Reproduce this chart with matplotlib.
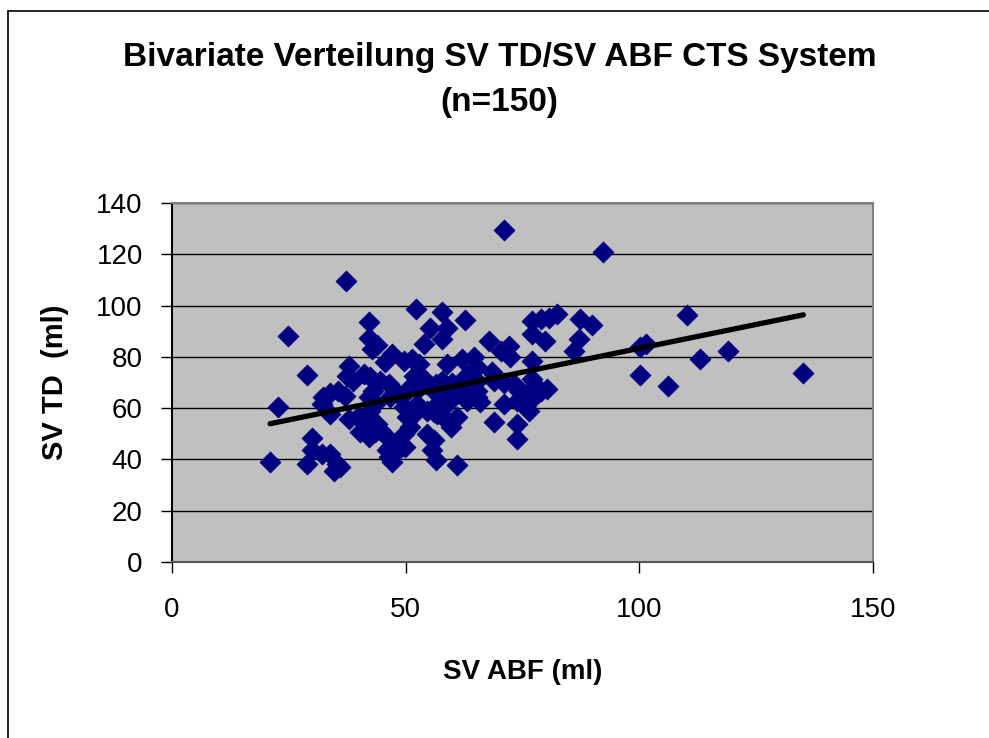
import matplotlib
matplotlib.use("Agg")
import matplotlib.pyplot as plt
from matplotlib.patches import Rectangle
import numpy as np

plt.rcParams['font.family'] = ['Liberation Sans', 'DejaVu Sans']

# SV ABF (ml) / SV TD (ml)
sv_abf = [21.0, 22.7, 24.9, 28.9, 29.9, 29.9, 28.9, 32.1, 33.9, 35.3,
          36.0, 34.6, 32.4, 33.9, 35.6, 37.1, 32.1, 33.9, 37.2, 37.8,
          37.4, 41.0, 38.8, 42.4, 42.1, 42.1, 42.8, 43.9, 37.8, 39.9,
          41.4, 42.4, 40.3, 42.1, 43.5, 42.1, 43.5, 43.1, 44.6, 46.4,
          47.8, 48.9, 46.7, 42.4, 43.9, 44.6, 46.0, 46.7, 47.4, 48.9,
          49.6, 51.0, 49.9, 46.4, 47.1, 46.0, 47.1, 45.6, 49.6, 51.4,
          52.8, 52.2, 57.8, 62.8, 55.1, 58.9, 57.8, 53.9, 51.7, 53.9,
          51.0, 53.1, 56.4, 57.8, 59.9, 56.0, 58.1, 61.7, 63.9, 65.3,
          52.4, 54.6, 51.7, 50.3, 49.6, 56.7, 58.9, 60.3, 56.7, 58.9,
          61.0, 59.6, 58.1, 56.0, 54.6, 56.0, 55.6, 56.4, 61.0, 58.9,
          62.1, 64.6, 65.3, 63.9, 62.8, 65.3, 63.1, 66.0, 65.3, 67.8,
          70.3, 72.1, 72.4, 71.1, 68.5, 68.8, 71.0, 73.1, 74.2, 71.0,
          73.9, 75.6, 76.7, 76.4, 69.0, 73.9, 73.9, 77.1, 77.1, 77.4,
          80.3, 78.9, 75.3, 77.1, 78.9, 80.6, 82.4, 77.1, 79.9, 87.2,
          89.9, 87.1, 86.0, 92.2, 100.1, 101.4, 100.1, 106.1, 110.1, 112.9,
          119.0, 135.1]
sv_td = [38.9, 60.5, 88.2, 72.8, 48.5, 43.5, 38.3, 42.2, 42.2, 38.3,
         37.0, 35.5, 64.2, 66.1, 66.8, 64.8, 61.6, 57.7, 109.7, 76.5,
         72.7, 73.3, 70.7, 72.0, 93.4, 87.5, 83.0, 84.5, 55.8, 56.4,
         53.9, 52.5, 50.6, 48.6, 50.6, 64.2, 61.6, 66.8, 70.7, 69.4,
         66.8, 64.2, 64.2, 59.0, 53.9, 51.3, 48.6, 44.7, 42.2, 46.1,
         50.0, 52.5, 44.7, 40.9, 38.9, 43.5, 81.1, 77.8, 78.5, 79.1,
         77.2, 98.6, 97.6, 94.3, 91.4, 91.4, 86.9, 85.1, 72.6, 71.4,
         68.1, 68.1, 69.4, 70.7, 70.0, 66.8, 66.8, 66.8, 68.1, 66.8,
         61.6, 59.0, 57.7, 56.4, 60.3, 61.6, 62.9, 64.2, 57.7, 55.1,
         56.4, 52.5, 60.3, 58.4, 50.0, 47.4, 43.5, 39.6, 37.9, 77.2,
         79.1, 79.8, 75.9, 73.9, 72.0, 70.7, 62.9, 62.3, 64.2, 86.3,
         82.4, 84.3, 79.8, 129.3, 73.9, 70.7, 70.0, 69.4, 66.8, 61.6,
         62.9, 61.0, 62.9, 59.0, 54.5, 53.9, 48.0, 78.5, 71.4, 68.1,
         67.5, 66.8, 65.5, 94.0, 94.7, 95.3, 96.6, 88.9, 86.3, 94.7,
         92.5, 86.9, 82.4, 121.0, 83.9, 85.2, 72.9, 68.8, 96.4, 79.0,
         82.1, 73.8]

title = "Bivariate Verteilung SV TD/SV ABF CTS System\n(n=150)"
xticks = [0, 50, 100, 150]
yticks = [0, 20, 40, 60, 80, 100, 120, 140]

x = np.array(sv_abf)
y = np.array(sv_td)
slope, intercept = np.polyfit(x, y, 1)
xl = np.array([x.min(), x.max()])

fig = plt.figure(figsize=(9.89, 7.38), dpi=100)
fig.patch.set_facecolor("white")
# outer chart frame (cut off at right / bottom like the original)
fig.patches.append(Rectangle((8 / 989, -0.1), 1.2, 1 - 11 / 738 + 0.1,
                             transform=fig.transFigure, fill=False,
                             edgecolor="black", linewidth=1.2))

ax = fig.add_axes([172 / 989, 1 - 562 / 738, 701 / 989, 359 / 738])
ax.set_facecolor("#C0C0C0")
for v in yticks[1:]:
    ax.axhline(v, color="black", linewidth=1.0, zorder=1)
ax.scatter(x, y, marker="D", s=115, color="#000080", edgecolors="#000080",
           linewidths=0.5, zorder=3)
ax.plot(xl, slope * xl + intercept, color="black", linewidth=3.8,
        solid_capstyle="round", zorder=4)

ax.set_xlim(0, 150)
ax.set_ylim(0, 140)
ax.set_xticks(xticks)
ax.set_yticks(yticks)
ax.tick_params(axis="both", labelsize=20, length=8, width=1.0,
               direction="out", color="black")
ax.tick_params(axis="x", pad=17)
ax.tick_params(axis="y", pad=13)
ax.spines["left"].set_color("black")
ax.spines["bottom"].set_color("#555555")
ax.spines["top"].set_color("#808080")
ax.spines["right"].set_color("#808080")
for s in ax.spines.values():
    s.set_linewidth(1.5)

ax.set_xlabel("SV ABF (ml)", fontsize=20, fontweight="bold", labelpad=26)
ax.set_ylabel("SV TD  (ml)", fontsize=21, fontweight="bold", labelpad=20)
fig.text(0.505, 1 - 80 / 738, title, ha="center", va="center",
         fontsize=24, fontweight="bold", linespacing=1.55)

fig.savefig("out.png", dpi=100)
